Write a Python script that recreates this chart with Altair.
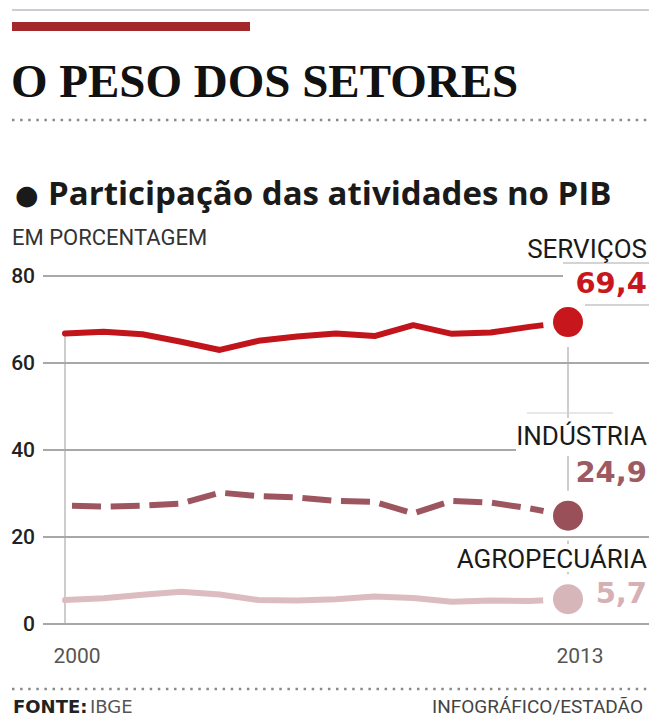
import altair as alt
import pandas as pd

# Participação das atividades no PIB (%), 2000-2013
anos = list(range(2000, 2014))
servicos = [66.8, 67.2, 66.6, 64.9, 63.0, 65.1, 66.1, 66.8, 66.2, 68.7, 66.7, 67.0, 68.3, 69.4]
industria = [27.2, 27.0, 27.2, 27.7, 30.2, 29.4, 29.1, 28.3, 28.1, 25.4, 28.3, 27.9, 26.6, 24.9]
agropecuaria = [5.5, 5.9, 6.7, 7.4, 6.8, 5.5, 5.4, 5.7, 6.3, 6.0, 5.1, 5.4, 5.3, 5.7]

setores = ["SERVIÇOS", "INDÚSTRIA", "AGROPECUÁRIA"]
y_ticks = [0, 20, 40, 60, 80]
x_ticks = [2000, 2013]

W, H = 649, 718
SERIF = "Liberation Serif, DejaVu Serif, serif"
SANS = "Roboto, DejaVu Sans, sans-serif"
WIDE = "Open Sans, Roboto, DejaVu Sans, sans-serif"
NUM = "DejaVu Sans, Roboto, sans-serif"

RED = "#c2151b"
MAUVE = "#9d5660"
PINK = "#dcbcc0"

xs = alt.Scale(domain=[2000, 2013], range=[65, 568], nice=False, zero=False)
ys = alt.Scale(domain=[0, 80], range=[624, 276], nice=False, zero=False)
X = alt.X("ano:Q", scale=xs, axis=None)
Y = alt.Y("valor:Q", scale=ys, axis=None)

one = pd.DataFrame({"k": [0]})


def fmt(v):
    return f"{v:.1f}".replace(".", ",")


def text(t, x, y, align="left", size=20, weight="normal", color="#222", font=SANS):
    df = pd.DataFrame({"t": [t]})
    return alt.Chart(df).mark_text(
        align=align, baseline="alphabetic", font=font, fontSize=size,
        fontWeight=weight, color=color,
    ).encode(x=alt.value(x), y=alt.value(y), text="t:N")


def hrule(x1, x2, y, color, width=1.0, dash=None):
    kw = dict(color=color, strokeWidth=width)
    if dash:
        kw["strokeDash"] = dash
    return alt.Chart(one).mark_rule(**kw).encode(
        x=alt.value(x1), x2=alt.value(x2), y=alt.value(y)
    )


def box(x1, x2, y1, y2, color="white"):
    return alt.Chart(one).mark_rect(color=color).encode(
        x=alt.value(x1), x2=alt.value(x2), y=alt.value(y1), y2=alt.value(y2)
    )


# header
header = [
    hrule(12, W, 10, "#b9bec4", 1.5),
    box(12, 250, 22, 31, "#a3282c"),
    text("O PESO DOS SETORES", 11, 97, size=47, weight="bold", color="#111", font=SERIF),
    hrule(12, W, 120, "#8a8a8a", 2.5, [2.5, 5.6]),
    text("●", 15, 204, size=27, color="#1a1a1a", font=NUM),
    text("Participação das atividades no PIB", 48, 205, size=33,
         weight="bold", color="#1a1a1a", font=WIDE),
    text("EM PORCENTAGEM", 12, 245, size=22, color="#333"),
]

df_s = pd.DataFrame({"ano": anos, "valor": servicos})
df_i = pd.DataFrame({"ano": anos, "valor": industria})
df_a = pd.DataFrame({"ano": anos, "valor": agropecuaria})

# vertical guides at the first and last year
df_v = pd.DataFrame({"ano": x_ticks, "valor": [servicos[0], servicos[-1]], "base": [0, 0]})
guides = alt.Chart(df_v).mark_rule(color="#bdbdbd", strokeWidth=1.5).encode(
    x=X, y=Y, y2="base:Q"
)

line_a = alt.Chart(df_a).mark_line(
    color=PINK, strokeWidth=6, strokeCap="round", strokeJoin="round"
).encode(x=X, y=Y)
line_i = alt.Chart(df_i).mark_line(
    color=MAUVE, strokeWidth=6, strokeDash=[29, 9.7], strokeDashOffset=31.7,
    strokeCap="butt", strokeJoin="round"
).encode(x=X, y=Y)
line_s = alt.Chart(df_s).mark_line(
    color=RED, strokeWidth=6, strokeCap="round", strokeJoin="round"
).encode(x=X, y=Y)

df_end = pd.DataFrame({
    "ano": [anos[-1]] * 3,
    "valor": [servicos[-1], industria[-1], agropecuaria[-1]],
    "setor": setores,
})
dot_color = alt.Color(
    "setor:N", scale=alt.Scale(domain=setores, range=["#c8161d", "#9a5059", "#d6b6b9"]),
    legend=None,
)
halos = alt.Chart(df_end).mark_point(
    shape="circle", filled=True, size=2500, color="white", opacity=1
).encode(x=X, y=Y)
dots = alt.Chart(df_end).mark_point(
    shape="circle", filled=True, size=900, opacity=1
).encode(x=X, y=Y, color=dot_color)

df_grid = pd.DataFrame({"valor": y_ticks, "rot": [str(v) for v in y_ticks]})
grid = alt.Chart(df_grid).mark_rule(color="#a8a8a8", strokeWidth=2).encode(
    y=Y, x=alt.value(43), x2=alt.value(W)
)
y_labels = alt.Chart(df_grid).mark_text(
    align="right", baseline="middle", font=SANS, fontSize=21, fontWeight=500,
    color="#222", dy=1,
).encode(y=Y, x=alt.value(35), text="rot:N")

df_xt = pd.DataFrame({"ano": x_ticks, "rot": [str(v) for v in x_ticks]})
x_labels = alt.Chart(df_xt).mark_text(
    align="center", baseline="alphabetic", font=SANS, fontSize=21,
    color="#555", dx=12,
).encode(x=X, y=alt.value(663), text="rot:N")

separators = [
    hrule(563, W, 263, "#a9a9a9", 1.2),
    hrule(585, W, 305, "#a9a9a9", 1.2),
    hrule(527, 613, 413, "#cfcfcf", 1.0),
]

# white panels behind the end labels
panels = [
    box(563, W, 266, 299),
    box(516, W, 418, 456),
    box(455, W, 544, 572),
]

labels = [
    text(setores[0], 647, 258, align="right", size=26, color="#1a1a1a"),
    text(fmt(servicos[-1]), 647, 293, align="right", size=29, weight="bold",
         color="#c8161d", font=NUM),
    text(setores[1], 647, 445, align="right", size=26, color="#1a1a1a"),
    text(fmt(industria[-1]), 647, 482, align="right", size=29, weight="bold",
         color="#9e5a63", font=NUM),
    text(setores[2], 647, 568, align="right", size=26, color="#1a1a1a"),
    text(fmt(agropecuaria[-1]), 647, 603, align="right", size=29, weight="bold",
         color="#d5b0b4", font=NUM),
]

footer = [
    hrule(12, W, 689, "#8a8a8a", 2.5, [2.5, 5.6]),
    text("FONTE:", 13, 713, size=18, weight="bold", color="#222", font=NUM),
    text("IBGE", 90, 713, size=18, color="#555", font=NUM),
    text("INFOGRÁFICO/ESTADÃO", 643, 713, align="right", size=19, color="#444"),
]

chart = alt.layer(
    *header,
    guides,
    line_a, line_i, line_s,
    halos,
    grid,
    *separators,
    *panels,
    dots,
    y_labels, x_labels,
    *labels,
    *footer,
).properties(
    width=W, height=H,
    autosize=alt.AutoSizeParams(type="none"),
    padding=0,
    background="white",
).configure_view(stroke=None)

chart.save("out.html", embed_options={"renderer": "svg", "actions": False})
